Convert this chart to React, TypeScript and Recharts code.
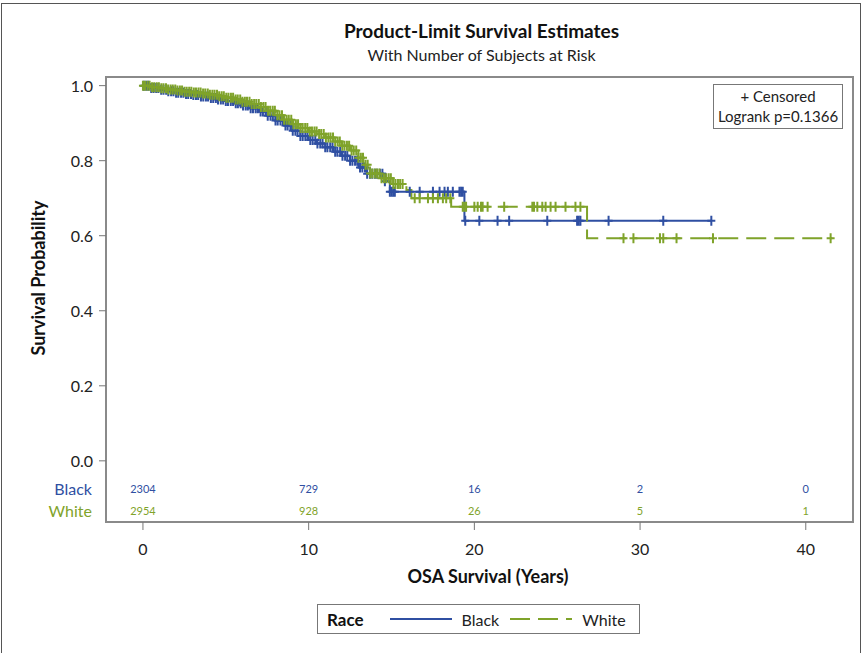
import { ComposedChart, Line, Scatter, XAxis, YAxis, ReferenceArea } from "recharts";

// Kaplan-Meier step estimates (years, survival)
const blackTimes = [0, 0.5, 1, 1.5, 2, 2.5, 3, 3.5, 4, 4.5, 5, 5.5, 6, 6.5, 7, 7.5, 8, 8.5, 9, 9.5, 10, 10.5, 11, 11.5, 12, 12.5, 13, 13.5, 14.6, 14.9, 19.4, 34.3];
const blackSurv = [1.0, 0.994, 0.989, 0.985, 0.981, 0.978, 0.975, 0.971, 0.967, 0.963, 0.959, 0.953, 0.947, 0.94, 0.931, 0.92, 0.907, 0.894, 0.88, 0.866, 0.855, 0.846, 0.836, 0.824, 0.813, 0.8, 0.782, 0.765, 0.745, 0.717, 0.64, 0.64];

const whiteTimes = [0, 0.5, 1, 1.5, 2, 2.5, 3, 3.5, 4, 4.5, 5, 5.5, 6, 6.5, 7, 7.5, 8, 8.5, 9, 9.5, 10, 10.5, 11, 11.5, 12, 12.5, 13, 13.3, 13.7, 14.3, 15.1, 15.9, 16.2, 18.6, 26.8, 41.6];
const whiteSurv = [1.0, 0.996, 0.993, 0.99, 0.987, 0.984, 0.982, 0.979, 0.976, 0.972, 0.968, 0.963, 0.957, 0.951, 0.943, 0.933, 0.921, 0.909, 0.897, 0.887, 0.878, 0.871, 0.862, 0.851, 0.84, 0.827, 0.808, 0.789, 0.766, 0.753, 0.738, 0.722, 0.7, 0.677, 0.593, 0.593];

// censoring times (the "+" marks); dense early on, so they merge into a band
const blackCensored = [
  0.05, 0.2, 0.33, 0.5, 0.64, 0.8, 0.93, 1.1, 1.24, 1.4, 1.53, 1.7, 1.84, 2.0, 2.13, 2.3, 2.44, 2.6, 2.73, 2.9,
  3.04, 3.2, 3.33, 3.5, 3.64, 3.8, 3.93, 4.1, 4.24, 4.4, 4.53, 4.7, 4.84, 5.0, 5.13, 5.3, 5.44, 5.6, 5.73, 5.9,
  6.04, 6.2, 6.33, 6.5, 6.64, 6.8, 6.93, 7.1, 7.24, 7.4, 7.53, 7.7, 7.84, 8.0, 8.13, 8.3, 8.44, 8.6, 8.73, 8.9,
  9.04, 9.2, 9.33, 9.5, 9.64, 9.8, 9.93, 10.1, 10.24, 10.4, 10.53, 10.7, 10.84, 11.0, 11.13, 11.3, 11.44, 11.6,
  11.73, 11.9, 12.04, 12.2, 12.33, 12.5, 12.64, 12.8, 12.93, 13.1, 13.24, 13.4, 13.53, 13.7, 13.84, 14.0, 14.13,
  14.3, 14.45, 14.6, 14.9, 15.0, 15.1, 15.2, 16.1, 16.7, 17.5, 17.9, 18.2, 18.4, 18.7, 19.1, 19.2, 19.3, 19.45,
  20.3, 21.4, 22.1, 24.4, 26.2, 26.3, 26.4, 28.1, 31.4, 34.3,
];
const whiteCensored = [
  0.0, 0.12, 0.27, 0.4, 0.55, 0.68, 0.83, 0.96, 1.11, 1.24, 1.39, 1.52, 1.67, 1.8, 1.95, 2.08, 2.23, 2.36, 2.51,
  2.64, 2.79, 2.92, 3.07, 3.2, 3.35, 3.48, 3.63, 3.76, 3.91, 4.04, 4.19, 4.32, 4.47, 4.6, 4.75, 4.88, 5.03, 5.16,
  5.31, 5.44, 5.59, 5.72, 5.87, 6.0, 6.15, 6.28, 6.43, 6.56, 6.71, 6.84, 6.99, 7.12, 7.27, 7.4, 7.55, 7.68, 7.83,
  7.96, 8.11, 8.24, 8.39, 8.52, 8.67, 8.8, 8.95, 9.08, 9.23, 9.36, 9.51, 9.64, 9.79, 9.92, 10.07, 10.2, 10.35,
  10.48, 10.63, 10.76, 10.91, 11.04, 11.19, 11.32, 11.47, 11.6, 11.75, 11.88, 12.03, 12.16, 12.31, 12.44, 12.59,
  12.72, 12.87, 13.0, 13.15, 13.28, 13.43, 13.56, 13.71, 13.84, 13.99, 14.12, 14.27, 14.4, 14.55, 14.68, 14.83,
  14.96, 15.11, 15.24, 15.39, 15.52, 15.67, 16.4, 16.7, 17.2, 17.5, 17.8, 18.1, 18.3, 18.55, 19.3, 19.4, 19.5,
  20.0, 20.2, 20.4, 20.5, 20.8, 21.8, 23.5, 23.6, 23.8, 24.1, 24.3, 24.6, 24.9, 25.5, 26.1, 26.4, 29.0, 29.6,
  31.2, 31.4, 32.2, 34.4, 41.5,
];

// number at risk
const riskYears = [0, 10, 20, 30, 40];
const blackAtRisk = [2304, 729, 16, 2, 0];
const whiteAtRisk = [2954, 928, 26, 5, 1];

const xTicks = [0, 10, 20, 30, 40];
const yTicks = [0, 0.2, 0.4, 0.6, 0.8, 1.0];

const BLUE = "#2F4FA2";
const GREEN = "#7FA32A";
const FONT = "Lato, 'Open Sans', sans-serif";
const X_DOMAIN = [-2.23, 42.85];
const Y_DOMAIN = [-0.163, 1.023];
const BLACK_ROW = -0.073;
const WHITE_ROW = -0.1315;

function survAt(times: number[], surv: number[], t: number) {
  let s = surv[0];
  for (let i = 0; i < times.length; i++) {
    if (times[i] <= t) s = surv[i];
  }
  return s;
}

const blackCurve = blackTimes.map((t, i) => ({ t, s: blackSurv[i] }));
const whiteCurve = whiteTimes.map((t, i) => ({ t, s: whiteSurv[i] }));
const blackMarks = blackCensored.map((t) => ({ t, s: survAt(blackTimes, blackSurv, t) }));
const whiteMarks = whiteCensored.map((t) => ({ t, s: survAt(whiteTimes, whiteSurv, t) }));
const blackRisk = riskYears.map((t, i) => ({ t, s: BLACK_ROW, n: blackAtRisk[i] }));
const whiteRisk = riskYears.map((t, i) => ({ t, s: WHITE_ROW, n: whiteAtRisk[i] }));

const plusShape = (color: string) => (props: any) => {
  const { cx, cy } = props;
  return (
    <path
      d={`M${cx - 4},${cy}H${cx + 4}M${cx},${cy - 5}V${cy + 5}`}
      stroke={color}
      strokeWidth={2}
      fill="none"
    />
  );
};

const riskShape = (color: string) => (props: any) => {
  const { cx, cy, payload } = props;
  return (
    <text x={cx} y={cy} textAnchor="middle" dominantBaseline="central" fontSize={11} fill={color} fontFamily={FONT}>
      {payload.n}
    </text>
  );
};

const YTick = (props: any) => {
  const { x, y, payload } = props;
  const v = payload.value;
  if (v < 0) {
    const isBlack = Math.abs(v - BLACK_ROW) < 0.001;
    return (
      <text x={x - 14} y={y} textAnchor="end" dominantBaseline="central" fontSize={16} fill={isBlack ? BLUE : GREEN} fontFamily={FONT}>
        {isBlack ? "Black" : "White"}
      </text>
    );
  }
  return (
    <g>
      <line x1={x - 7} x2={x} y1={y} y2={y} stroke="#777" strokeWidth={1} />
      <text x={x - 13} y={y} textAnchor="end" dominantBaseline="central" fontSize={16} fill="#222" fontFamily={FONT}>
        {v.toFixed(1)}
      </text>
    </g>
  );
};

const XTick = (props: any) => {
  const { x, y, payload } = props;
  return (
    <g>
      <line x1={x} x2={x} y1={y} y2={y + 8} stroke="#777" strokeWidth={1} />
      <text x={x} y={y + 26} textAnchor="middle" dominantBaseline="central" fontSize={16} fill="#222" fontFamily={FONT}>
        {payload.value}
      </text>
    </g>
  );
};

export default function App() {
  return (
    <div style={{ position: "absolute", left: 0, top: 0, width: 863, height: 653, background: "#fff", fontFamily: FONT, overflow: "hidden" }}>
      <div style={{ position: "absolute", left: 1, top: 3, width: 858, height: 660, borderTop: "1.5px solid #555", borderLeft: "1.5px solid #555", borderRight: "1.5px solid #555" }} />
      <div style={{ position: "absolute", left: 0, width: 963, top: 19, textAlign: "center", fontSize: 19, fontWeight: 700, color: "#111" }}>
        Product-Limit Survival Estimates
      </div>
      <div style={{ position: "absolute", left: 0, width: 963, top: 45, textAlign: "center", fontSize: 16, color: "#222" }}>
        With Number of Subjects at Risk
      </div>

      <ComposedChart width={863} height={653} margin={{ top: 77, right: 10, left: 46, bottom: 101 }}>
        <XAxis
          type="number"
          dataKey="t"
          domain={X_DOMAIN}
          ticks={xTicks}
          allowDataOverflow
          axisLine={false}
          tickLine={false}
          tickSize={0}
          tickMargin={0}
          height={30}
          tick={<XTick />}
        />
        <YAxis
          type="number"
          dataKey="s"
          domain={Y_DOMAIN}
          ticks={[...yTicks, BLACK_ROW, WHITE_ROW]}
          allowDataOverflow
          axisLine={false}
          tickLine={false}
          tickSize={0}
          tickMargin={0}
          width={60}
          interval={0}
          tick={<YTick />}
        />
        <ReferenceArea
          x1={X_DOMAIN[0]}
          x2={X_DOMAIN[1]}
          y1={Y_DOMAIN[0]}
          y2={Y_DOMAIN[1]}
          fill="none"
          stroke="#8a8a8a"
          strokeWidth={2}
          ifOverflow="visible"
        />
        <Line data={blackCurve} dataKey="s" type="stepAfter" stroke={BLUE} strokeWidth={2} dot={false} isAnimationActive={false} />
        <Scatter data={blackMarks} dataKey="s" shape={plusShape(BLUE)} isAnimationActive={false} />
        <Line data={whiteCurve} dataKey="s" type="stepAfter" stroke={GREEN} strokeWidth={2} strokeDasharray="20 8" dot={false} isAnimationActive={false} />
        <Scatter data={whiteMarks} dataKey="s" shape={plusShape(GREEN)} isAnimationActive={false} />
        <Scatter data={blackRisk} dataKey="s" shape={riskShape(BLUE)} isAnimationActive={false} />
        <Scatter data={whiteRisk} dataKey="s" shape={riskShape(GREEN)} isAnimationActive={false} />
      </ComposedChart>

      <div style={{ position: "absolute", left: 713, top: 84, width: 128, height: 42, border: "1.5px solid #777", fontSize: 15, color: "#222", textAlign: "center", lineHeight: "20px", paddingTop: 1 }}>
        <div>+ Censored</div>
        <div>Logrank p=0.1366</div>
      </div>

      <div style={{ position: "absolute", left: 0, top: 565, width: 976, textAlign: "center", fontSize: 18, fontWeight: 700, color: "#111" }}>
        OSA Survival (Years)
      </div>
      <div style={{ position: "absolute", left: 38, top: 278, width: 0, height: 0 }}>
        <div style={{ position: "absolute", left: -100, top: -12, width: 200, textAlign: "center", transform: "rotate(-90deg)", fontSize: 18, fontWeight: 700, color: "#111", lineHeight: "24px" }}>
          Survival Probability
        </div>
      </div>

      <div style={{ position: "absolute", left: 317, top: 604, width: 321, height: 28, border: "1.5px solid #777", display: "flex", alignItems: "center", fontSize: 16, color: "#222" }}>
        <span style={{ fontWeight: 700, fontSize: 17, marginLeft: 9, color: "#111" }}>Race</span>
        <svg width={64} height={10} style={{ marginLeft: 26 }}>
          <line x1={0} x2={62} y1={5} y2={5} stroke={BLUE} strokeWidth={2} />
        </svg>
        <span style={{ marginLeft: 8 }}>Black</span>
        <svg width={64} height={10} style={{ marginLeft: 11 }}>
          <line x1={0} x2={62} y1={5} y2={5} stroke={GREEN} strokeWidth={2} strokeDasharray="20 8" />
        </svg>
        <span style={{ marginLeft: 8 }}>White</span>
      </div>
    </div>
  );
}
